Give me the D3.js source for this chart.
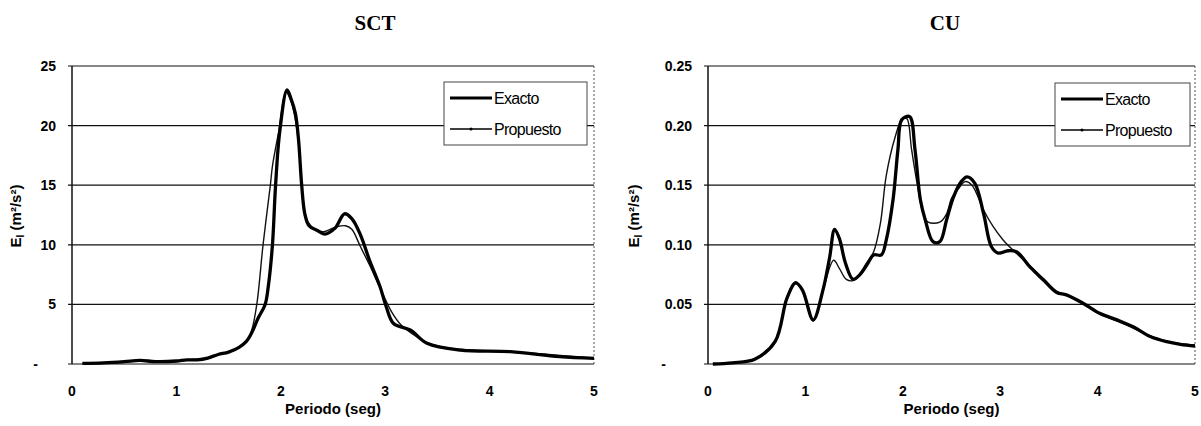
<!DOCTYPE html>
<html>
<head>
<meta charset="utf-8">
<script src="https://cdn.jsdelivr.net/npm/d3@7"></script>
<style>
  body { margin: 0; background: #fff; }
  svg { display: block; }
</style>
</head>
<body>
<div class="charts"></div>
<script>
// periodo (seg) and E_I values
var sctPeriodExacto = [0.1, 0.3, 0.5, 0.65, 0.8, 1.0, 1.1, 1.2, 1.3, 1.4, 1.5, 1.6, 1.67, 1.72, 1.78, 1.85, 1.88, 1.92, 1.95, 1.99, 2.06, 2.1, 2.14, 2.17, 2.2, 2.23, 2.27, 2.35, 2.42, 2.52, 2.61, 2.68, 2.76, 2.85, 2.95, 3.01, 3.08, 3.24, 3.4, 3.72, 4.2, 4.67, 5.0];
var sctExacto = [0.05, 0.1, 0.2, 0.3, 0.2, 0.25, 0.35, 0.35, 0.5, 0.8, 1.0, 1.4, 1.9, 2.6, 3.8, 5.0, 6.5, 10, 15, 19.5, 23.0, 22.2, 21.0, 18.8, 15, 12.6, 11.6, 11.2, 10.9, 11.4, 12.6, 12.2, 10.9, 8.7, 6.5, 4.8, 3.4, 2.85, 1.74, 1.17, 1.03, 0.61, 0.47];

var sctPeriodPropuesto = [0.1, 0.3, 0.5, 0.65, 0.8, 1.0, 1.1, 1.2, 1.3, 1.4, 1.5, 1.6, 1.67, 1.72, 1.77, 1.83, 1.9, 1.92, 1.98, 2.05, 2.1, 2.14, 2.17, 2.2, 2.23, 2.26, 2.33, 2.41, 2.53, 2.62, 2.68, 2.76, 2.85, 2.95, 3.06, 3.15, 3.3, 3.4, 3.6, 3.8, 4.0, 4.5, 5.0];
var sctPropuesto = [0.05, 0.1, 0.15, 0.3, 0.2, 0.2, 0.35, 0.4, 0.5, 0.8, 1.0, 1.4, 1.9, 2.8, 5.0, 10, 15, 16.6, 19.5, 22.8, 22.0, 20.5, 18.5, 15, 12.8, 11.9, 11.3, 11.1, 11.5, 11.6, 11.3, 9.9, 8.3, 6.4, 4.4, 3.3, 2.3, 1.8, 1.35, 1.2, 1.1, 0.85, 0.5];

var cuPeriodExacto = [0.05, 0.25, 0.48, 0.69, 0.81, 0.9, 0.97, 1.08, 1.18, 1.25, 1.3, 1.35, 1.41, 1.49, 1.56, 1.63, 1.7, 1.78, 1.83, 1.9, 1.95, 1.99, 2.07, 2.125, 2.18, 2.23, 2.31, 2.38, 2.45, 2.52, 2.6, 2.66, 2.74, 2.83, 2.91, 2.98, 3.08, 3.17, 3.31, 3.45, 3.58, 3.68, 3.85, 4.02, 4.2, 4.37, 4.54, 4.71, 4.85, 5.0];
var cuExacto = [0.0, 0.001, 0.004, 0.019, 0.055, 0.068, 0.062, 0.037, 0.062, 0.09, 0.113, 0.105, 0.085, 0.071, 0.075, 0.083, 0.0915, 0.0915, 0.104, 0.138, 0.18, 0.205, 0.2075, 0.18, 0.138, 0.121, 0.1026, 0.1026, 0.121, 0.14, 0.153, 0.157, 0.1516, 0.126, 0.0984, 0.093, 0.095, 0.094, 0.081, 0.07, 0.06, 0.058, 0.051, 0.0425, 0.037, 0.031, 0.023, 0.0187, 0.0165, 0.015];

var cuPeriodPropuesto = [0.05, 0.25, 0.48, 0.69, 0.81, 0.9, 0.97, 1.08, 1.18, 1.29, 1.35, 1.42, 1.49, 1.56, 1.63, 1.7, 1.77, 1.83, 1.92, 1.99, 2.04, 2.09, 2.15, 2.21, 2.26, 2.38, 2.45, 2.5, 2.57, 2.64, 2.71, 2.83, 2.93, 3.03, 3.13, 3.31, 3.45, 3.58, 3.68, 3.85, 4.02, 4.2, 4.37, 4.54, 4.71, 4.85, 5.0];
var cuPropuesto = [0.0, 0.001, 0.004, 0.019, 0.056, 0.069, 0.061, 0.036, 0.062, 0.087, 0.08, 0.071, 0.07, 0.076, 0.085, 0.094, 0.118, 0.158, 0.19, 0.205, 0.206, 0.18, 0.15, 0.126, 0.119, 0.119, 0.126, 0.139, 0.147, 0.153, 0.15, 0.129, 0.115, 0.104, 0.0956, 0.082, 0.071, 0.061, 0.0575, 0.0505, 0.042, 0.036, 0.03, 0.0235, 0.019, 0.017, 0.016];

var xTicks = [0, 1, 2, 3, 4, 5];
var sctTicks = [0, 5, 10, 15, 20, 25];
var cuTicks = [0, 0.05, 0.10, 0.15, 0.20, 0.25];
var seriesNames = ["Exacto", "Propuesto"];

var width = 1201, height = 426;

const svg = d3.select(".charts").append("svg")
    .attr("width", width)
    .attr("height", height);

function drawChart(opt) {
    var x = d3.scaleLinear().domain([0, 5]).range([opt.left, opt.right]);
    var y = d3.scaleLinear().domain([0, opt.yMax]).range([364, 66]);
    var g = svg.append("g");

    // title
    g.append("text")
        .attr("x", opt.titleX)
        .attr("y", 30)
        .attr("text-anchor", "middle")
        .attr("font-family", "Liberation Serif, Times New Roman, serif")
        .attr("font-weight", "bold")
        .attr("font-size", 21)
        .text(opt.title);

    // gridlines
    g.append("g")
        .selectAll("line")
        .data(opt.yTicks)
        .join("line")
        .attr("x1", opt.left - 4)
        .attr("x2", opt.right)
        .attr("y1", d => y(d))
        .attr("y2", d => y(d))
        .attr("stroke", "#111")
        .attr("stroke-width", 1.2);

    // frame: solid left, dotted right
    g.append("line")
        .attr("x1", opt.left).attr("x2", opt.left)
        .attr("y1", y(opt.yMax)).attr("y2", y(0))
        .attr("stroke", "#111").attr("stroke-width", 1.5);
    g.append("line")
        .attr("x1", opt.right).attr("x2", opt.right)
        .attr("y1", y(opt.yMax)).attr("y2", y(0))
        .attr("stroke", "#555").attr("stroke-width", 1)
        .attr("stroke-dasharray", "2,2");

    // y tick labels
    g.append("g")
        .attr("font-family", "Liberation Sans, Arial, sans-serif")
        .attr("font-size", 14)
        .attr("font-weight", "bold")
        .selectAll("text")
        .data(opt.yTicks)
        .join("text")
        .attr("x", d => d === 0 ? opt.left - opt.dashOffset : opt.left - 16)
        .attr("y", d => y(d) + 5)
        .attr("text-anchor", "end")
        .text(d => d === 0 ? "-" : opt.yFormat(d));

    // x tick labels
    g.append("g")
        .attr("font-family", "Liberation Sans, Arial, sans-serif")
        .attr("font-size", 14)
        .attr("font-weight", "bold")
        .selectAll("text")
        .data(xTicks)
        .join("text")
        .attr("x", d => x(d))
        .attr("y", 396)
        .attr("text-anchor", "middle")
        .text(d => d);

    // axis titles
    g.append("text")
        .attr("x", (opt.left + opt.right) / 2)
        .attr("y", 414)
        .attr("text-anchor", "middle")
        .attr("font-family", "Liberation Sans, Arial, sans-serif")
        .attr("font-size", 15)
        .attr("font-weight", "bold")
        .text("Periodo (seg)");

    var yt = g.append("text")
        .attr("transform", `translate(${opt.yTitleX},216) rotate(-90)`)
        .attr("text-anchor", "middle")
        .attr("font-family", "Liberation Sans, Arial, sans-serif")
        .attr("font-size", 15)
        .attr("font-weight", "bold");
    yt.append("tspan").text("E");
    yt.append("tspan").attr("font-size", 10).attr("dy", 3).text("I");
    yt.append("tspan").attr("dy", -3).text(" (m²/s²)");

    // lines
    var line = d3.line()
        .x(d => x(d[0]))
        .y(d => y(d[1]))
        .curve(d3.curveCatmullRom.alpha(0.5));

    var exacto = opt.exX.map((p, i) => [p, opt.exY[i]]);
    var propuesto = opt.prX.map((p, i) => [p, opt.prY[i]]);

    g.append("path")
        .datum(propuesto)
        .attr("fill", "none")
        .attr("stroke", "#111")
        .attr("stroke-width", 1.4)
        .attr("d", line);

    g.append("path")
        .datum(exacto)
        .attr("fill", "none")
        .attr("stroke", "#000")
        .attr("stroke-width", 3.3)
        .attr("stroke-linejoin", "round")
        .attr("d", line);

    // legend
    var lg = g.append("g").attr("transform", `translate(${opt.legX},${opt.legY})`);
    lg.append("rect")
        .attr("width", opt.legW)
        .attr("height", 63)
        .attr("fill", "#fff")
        .attr("stroke", "#444")
        .attr("stroke-width", 1);
    lg.selectAll("g.item")
        .data(seriesNames)
        .join("g")
        .attr("class", "item")
        .attr("transform", (d, i) => `translate(6,${16 + i * 31})`)
        .each(function (d, i) {
            var it = d3.select(this);
            it.append("line")
                .attr("x1", 0).attr("x2", 42)
                .attr("stroke", "#000")
                .attr("stroke-width", i === 0 ? 3 : 1.4);
            if (i === 1) {
                it.append("circle").attr("cx", 21).attr("r", 1.5).attr("fill", "#000");
            }
            it.append("text")
                .attr("x", 44)
                .attr("y", 6)
                .attr("font-family", "Liberation Sans, Arial, sans-serif")
                .attr("font-size", 16)
                .attr("letter-spacing", -0.7)
                .text(d);
        });
}

drawChart({
    title: "SCT", titleX: 375,
    left: 72, right: 594, yMax: 25, yTicks: sctTicks,
    yFormat: d3.format("d"), dashOffset: 34, yTitleX: 21,
    exX: sctPeriodExacto, exY: sctExacto,
    prX: sctPeriodPropuesto, prY: sctPropuesto,
    legX: 444, legY: 82, legW: 143
});

drawChart({
    title: "CU", titleX: 945,
    left: 708, right: 1195, yMax: 0.25, yTicks: cuTicks,
    yFormat: d3.format(".2f"), dashOffset: 42, yTitleX: 639,
    exX: cuPeriodExacto, exY: cuExacto,
    prX: cuPeriodPropuesto, prY: cuPropuesto,
    legX: 1055, legY: 83, legW: 135
});
</script>
</body>
</html>
